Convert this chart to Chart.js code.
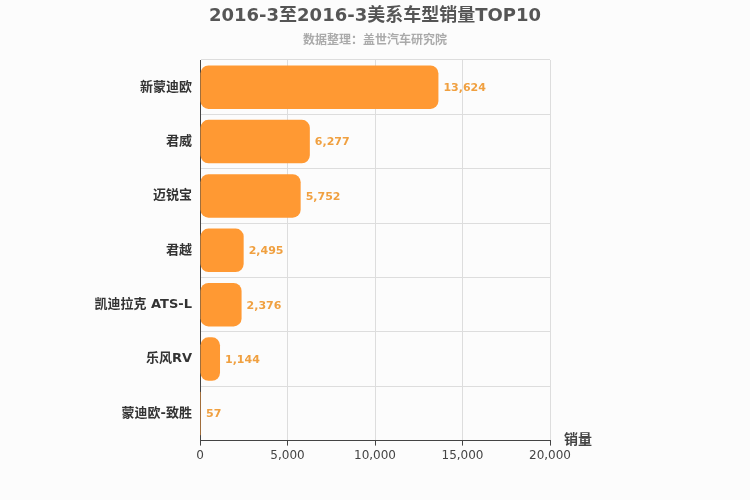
<!DOCTYPE html>
<html><head><meta charset="utf-8">
<script src="https://cdn.jsdelivr.net/npm/chart.js@4/dist/chart.umd.min.js"></script>
<style>body{margin:0;background:#fcfcfc}#w{width:750px;height:500px}</style>
</head><body><div id="w"><canvas id="c"></canvas></div>
<script>
const categories=["新蒙迪欧","君威","迈锐宝","君越","凯迪拉克 ATS-L","乐风RV","蒙迪欧-致胜"];
const sales=[13624,6277,5752,2495,2376,1144,57];
const xTicks=[0,5000,10000,15000,20000];
const F="'DejaVu Sans','Noto Sans CJK SC',sans-serif";
const labels={id:'lbl',afterDatasetsDraw(ch){const ctx=ch.ctx;const m=ch.getDatasetMeta(0);ctx.save();ctx.font="bold 11px "+F;ctx.fillStyle="#f0a040";ctx.textBaseline="middle";
m.data.forEach((b,i)=>{ctx.fillText(sales[i].toLocaleString('en-US'),b.x+5,b.y+1);});
const a=ch.chartArea;ctx.font="bold 14px "+F;ctx.fillStyle="#444";ctx.fillText("销量",a.right+14,a.bottom);
ctx.textAlign="center";ctx.font="bold 18px "+F;ctx.fillStyle="#555";ctx.fillText("2016-3至2016-3美系车型销量TOP10",375,16);
ctx.font="bold 12px "+F;ctx.fillStyle="#aaa";ctx.fillText("数据整理：盖世汽车研究院",375,41);ctx.restore();}};
new Chart(document.getElementById('c'),{type:'bar',data:{labels:categories,datasets:[{data:sales,backgroundColor:'#ff9933',borderRadius:8,borderSkipped:false,categoryPercentage:0.8,barPercentage:1}]},
options:{indexAxis:'y',responsive:true,maintainAspectRatio:false,animation:false,
layout:{padding:{top:60,right:200,bottom:34,left:0}},
plugins:{legend:{display:false},tooltip:{enabled:false}},
scales:{x:{min:0,max:20000,afterBuildTicks(s){s.ticks=xTicks.map(v=>({value:v}));},ticks:{color:'#444',font:{size:12,family:F},callback:v=>v.toLocaleString('en-US')},grid:{color:'#ddd',drawTicks:true,tickColor:'#444',tickLength:5},border:{color:'#444'}},
y:{afterFit(s){s.width=200;},ticks:{color:'#333',padding:8,font:{size:13,weight:'bold',family:F}},grid:{color:'#ddd',offset:true,drawTicks:false},border:{color:'#444'}}}},
plugins:[labels]});
</script></body></html>
